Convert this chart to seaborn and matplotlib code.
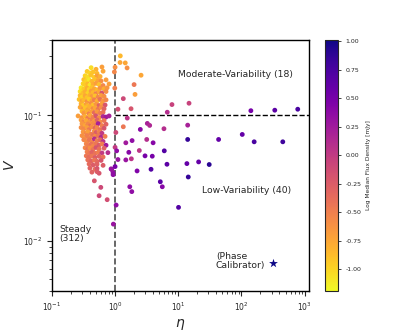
import matplotlib
matplotlib.use("Agg")
import matplotlib.pyplot as plt
import matplotlib as mpl
import numpy as np
import pandas as pd
import seaborn as sns

# ---- Steady sources (eta < 1) ----
steady_eta = [
    0.418, 0.50, 0.62,
    0.361, 0.40, 0.449, 0.519, 0.646,
    0.336, 0.37, 0.418, 0.47, 0.519, 0.58,
    0.32, 0.35, 0.388, 0.43, 0.483, 0.54, 0.601, 0.72,
    0.312, 0.336, 0.37, 0.40, 0.449, 0.50, 0.559, 0.646, 0.804,
    0.29, 0.32, 0.361, 0.388, 0.43, 0.47, 0.519, 0.58, 0.67, 0.748,
    0.28, 0.312, 0.336, 0.37, 0.418, 0.449, 0.50, 0.559, 0.62, 0.72,
    0.28, 0.30, 0.336, 0.361, 0.40, 0.43, 0.483, 0.54, 0.601, 0.67,
    0.27, 0.30, 0.32, 0.361, 0.388, 0.43, 0.47, 0.519, 0.58, 0.646, 0.72,
    0.29, 0.312, 0.35, 0.37, 0.418, 0.449, 0.50, 0.559, 0.62, 0.695,
    0.28, 0.312, 0.336, 0.37, 0.40, 0.449, 0.483, 0.54, 0.601, 0.67,
    0.30, 0.32, 0.361, 0.388, 0.43, 0.47, 0.519, 0.58, 0.646,
    0.26, 0.30, 0.336, 0.37, 0.40, 0.449, 0.50, 0.559, 0.646, 0.72, 0.804,
    0.29, 0.32, 0.35, 0.388, 0.43, 0.47, 0.519, 0.58, 0.67,
    0.30, 0.336, 0.37, 0.40, 0.449, 0.50, 0.54, 0.62, 0.72,
    0.29, 0.32, 0.361, 0.388, 0.43, 0.483, 0.519, 0.58, 0.67,
    0.312, 0.35, 0.37, 0.418, 0.47, 0.50, 0.559, 0.62,
    0.30, 0.336, 0.361, 0.40, 0.449, 0.483, 0.54, 0.601, 0.695,
    0.32, 0.361, 0.388, 0.43, 0.47, 0.519, 0.58, 0.646,
    0.35, 0.37, 0.418, 0.449, 0.50, 0.559, 0.62, 0.72,
    0.336, 0.37, 0.40, 0.449, 0.50, 0.559, 0.67,
    0.361, 0.40, 0.43, 0.483, 0.54, 0.62, 0.77,
    0.35, 0.388, 0.43, 0.483, 0.559, 0.646,
    0.37, 0.418, 0.47, 0.519, 0.601,
    0.388, 0.449, 0.519, 0.646,
    0.40, 0.483, 0.519, 0.865,
    0.43, 0.559, 0.929,
    0.519, 0.47, 0.595, 0.559, 0.75, 0.885, 0.93, 0.94, 1.0, 1.0,
]
steady_v = [
    0.240, 0.233, 0.243,
    0.224, 0.218, 0.222, 0.216, 0.225,
    0.207, 0.203, 0.209, 0.201, 0.206, 0.204,
    0.193, 0.189, 0.192, 0.187, 0.194, 0.190, 0.188, 0.192,
    0.179, 0.175, 0.178, 0.174, 0.177, 0.180, 0.176, 0.173, 0.178,
    0.166, 0.162, 0.165, 0.161, 0.167, 0.163, 0.160, 0.165, 0.163, 0.166,
    0.155, 0.151, 0.154, 0.150, 0.156, 0.152, 0.149, 0.154, 0.151, 0.155,
    0.144, 0.140, 0.143, 0.139, 0.145, 0.141, 0.143, 0.140, 0.144, 0.142,
    0.134, 0.130, 0.133, 0.129, 0.135, 0.131, 0.133, 0.130, 0.134, 0.131, 0.133,
    0.124, 0.120, 0.123, 0.119, 0.125, 0.121, 0.123, 0.120, 0.124, 0.121,
    0.116, 0.112, 0.115, 0.111, 0.117, 0.113, 0.115, 0.112, 0.116, 0.113,
    0.108, 0.104, 0.107, 0.103, 0.108, 0.105, 0.107, 0.104, 0.106,
    0.099, 0.096, 0.098, 0.095, 0.100, 0.097, 0.099, 0.096, 0.098, 0.097, 0.099,
    0.092, 0.089, 0.091, 0.088, 0.093, 0.090, 0.092, 0.089, 0.091,
    0.086, 0.083, 0.085, 0.082, 0.087, 0.084, 0.086, 0.083, 0.085,
    0.080, 0.078, 0.080, 0.077, 0.081, 0.079, 0.080, 0.077, 0.079,
    0.074, 0.072, 0.074, 0.071, 0.075, 0.073, 0.074, 0.072,
    0.069, 0.067, 0.069, 0.066, 0.070, 0.068, 0.069, 0.067, 0.068,
    0.064, 0.062, 0.064, 0.061, 0.065, 0.063, 0.064, 0.062,
    0.0595, 0.0575, 0.0590, 0.0570, 0.0600, 0.0580, 0.0592, 0.0578,
    0.0552, 0.0538, 0.0550, 0.0535, 0.0555, 0.0540, 0.0548,
    0.0512, 0.0500, 0.0510, 0.0498, 0.0508, 0.0502, 0.0505,
    0.0476, 0.0465, 0.0474, 0.0462, 0.0472, 0.0466,
    0.0442, 0.0432, 0.0440, 0.0430, 0.0438,
    0.0410, 0.0402, 0.0408, 0.0400,
    0.0380, 0.0372, 0.0378, 0.0375,
    0.0353, 0.0346, 0.0350,
    0.0356, 0.0301, 0.0267, 0.0229, 0.0213, 0.0370, 0.0337, 0.0136, 0.0557, 0.0391,
]
steady_flux = [
    -1.05, -0.8, -0.7,
    -0.95, -1.0, -0.9, -0.85, -0.75,
    -1.0, -1.05, -0.9, -0.95, -0.7, -0.8,
    -0.9, -1.0, -1.1, -0.85, -0.9, -0.75, -0.6, -0.7,
    -1.0, -0.95, -0.85, -1.1, -0.8, -0.7, -0.9, -0.55, -0.7,
    -1.1, -0.95, -0.8, -1.0, -0.9, -0.75, -0.85, -0.6, -0.8, -0.65,
    -1.05, -0.9, -0.8, -1.0, -0.7, -0.85, -0.5, -0.75, -0.2, -0.6,
    -0.85, -1.0, -0.75, -0.9, -0.8, -0.65, -0.9, -0.55, -0.7, -0.6,
    -0.9, -0.7, -0.85, -0.6, -0.95, -0.75, -0.5, -0.8, -0.4, -0.65, -0.55,
    -0.8, -0.95, -0.7, -0.85, -0.6, -0.9, -0.65, -0.3, -0.7, -0.2,
    -0.75, -0.6, -0.9, -0.7, -0.8, -0.55, -0.75, -0.45, -0.6, -0.3,
    -0.85, -0.65, -0.8, -0.5, -0.7, -0.35, -0.65, -0.5, -0.4,
    -0.7, -0.6, -0.8, -0.45, -0.75, -0.55, -0.2, -0.6, 0.15, 0.25, 0.2,
    -0.7, -0.55, -0.75, -0.65, -0.5, -0.7, -0.3, -0.6, -0.45,
    -0.65, -0.75, -0.55, -0.4, -0.6, -0.5, 0.2, -0.5, -0.3,
    -0.6, -0.55, -0.7, -0.45, -0.6, -0.3, -0.55, -0.4, -0.2,
    -0.65, -0.55, -0.7, -0.5, -0.6, -0.25, -0.5, 0.0,
    -0.6, -0.65, -0.5, -0.55, -0.4, -0.6, -0.45, 0.15, -0.5,
    -0.55, -0.6, -0.45, -0.55, 0.1, -0.5, -0.35, 0.05,
    -0.55, -0.5, -0.4, -0.55, -0.45, -0.25, -0.5, 0.25,
    -0.55, -0.4, -0.6, -0.45, -0.2, -0.4, -0.3,
    -0.5, -0.45, -0.3, -0.4, -0.5, 0.0, 0.1,
    -0.45, -0.35, -0.45, -0.25, -0.3, -0.4,
    -0.4, -0.3, -0.45, -0.35, -0.2,
    -0.35, -0.25, -0.3, -0.25,
    -0.3, -0.4, -0.2, 0.3,
    -0.3, -0.2, 0.35,
    -0.25, -0.2, -0.1, -0.1, -0.15, 0.3, 0.35, 0.3, 0.0, 0.5,
]

# ---- Variable sources (eta > 1) ----
var_eta = [
    1.21, 1.20, 1.45, 1.55, 1.0, 0.975, 2.58, 2.0, 2.07, 0.99,
    1.35, 1.11, 1.79, 7.95, 14.8, 6.7, 141, 337, 778,
    1.35, 1.56, 3.24, 3.53, 2.51, 5.94, 14.1, 1.03, 14.1, 1.48,
    1.86, 3.17, 4.0, 1.06, 1.65, 2.42, 2.98, 3.88, 6.01, 1.11,
    1.48, 1.81, 6.63, 13.7, 21.0, 30.9, 2.23, 3.71, 14.4, 5.2,
    5.59, 1.71, 1.84, 10.1, 1.04, 43.5, 103, 159, 451,
]
var_v = [
    0.298, 0.264, 0.262, 0.239, 0.242, 0.222, 0.209, 0.176, 0.147, 0.165,
    0.136, 0.112, 0.113, 0.122, 0.125, 0.106, 0.109, 0.110, 0.112,
    0.0812, 0.0952, 0.0863, 0.0832, 0.0773, 0.0783, 0.0836, 0.0731, 0.0643, 0.0605,
    0.063, 0.0643, 0.0605, 0.0522, 0.0508, 0.0525, 0.0476, 0.0473, 0.0522, 0.0445,
    0.0442, 0.0451, 0.0408, 0.0413, 0.0426, 0.0406, 0.0361, 0.0372, 0.0323, 0.0296,
    0.027, 0.027, 0.0247, 0.0185, 0.0193, 0.0643, 0.0705, 0.0616, 0.0616,
]
var_flux = [
    -0.85, -0.75, -0.75, -0.6, -0.6, -0.55, -0.75, -0.45, -0.7, -0.5,
    -0.1, -0.15, -0.2, -0.05, -0.05, 0.1, 0.5, 0.65, 0.75,
    -0.45, 0.05, 0.2, 0.15, 0.4, 0.1, 0.2, -0.1, 0.85, 0.25,
    0.35, 0.1, 0.4, 0.35, 0.4, 0.05, 0.5, 0.5, 0.7, 0.3,
    0.3, 0.05, 0.65, 0.6, 0.6, 0.9, 0.45, 0.7, 0.85, 0.65,
    0.4, 0.35, 0.35, 0.7, 0.35, 0.6, 0.6, 0.75, 0.8,
]

# Phase calibrator
cal_eta = [313.0]
cal_v = [0.0067]

region_labels = ["Moderate-Variability (18)", "Low-Variability (40)",
                 "Steady\n(312)", "(Phase\nCalibrator)"]

vmin, vmax = -1.19, 1.01

df = pd.DataFrame({
    "eta": steady_eta + var_eta,
    "V": steady_v + var_v,
    "flux": steady_flux + var_flux,
})
cal = pd.DataFrame({"eta": cal_eta, "V": cal_v})

sns.set_style("ticks")
plt.rcParams["font.family"] = ["DejaVu Sans"]

fig = plt.figure(figsize=(4.15, 3.32), dpi=100)
ax = fig.add_axes([0.125, 0.124, 0.62, 0.756])
cax = fig.add_axes([0.783, 0.124, 0.031, 0.756])

cmap = plt.get_cmap("plasma_r")
norm = mpl.colors.Normalize(vmin=vmin, vmax=vmax)
pal = {v: cmap(norm(v)) for v in sorted(set(df["flux"]))}

sns.scatterplot(data=df, x="eta", y="V", hue="flux", palette=pal,
                s=12, linewidth=0, legend=False, ax=ax, zorder=3)
sns.scatterplot(data=cal, x="eta", y="V", marker="*", color=cmap(1.0),
                s=45, linewidth=0, legend=False, ax=ax, zorder=4)

ax.set_xscale("log")
ax.set_yscale("log")
ax.set_xlim(0.1, 1180)
ax.set_ylim(0.004, 0.4)

ax.axvline(1.0, color="0.3", ls="--", lw=1.2, zorder=2)
ax.plot([1.0, 1180], [0.1, 0.1], color="black", ls="--", lw=1.0, zorder=2)

fs = 6.7
ax.text(9.9, 0.212, region_labels[0], fontsize=fs, ha="left", va="center")
ax.text(24.0, 0.0251, region_labels[1], fontsize=fs, ha="left", va="center")
ax.text(0.13, 0.0114, region_labels[2], fontsize=fs, ha="left", va="center",
        linespacing=1.0)
ax.text(39.4, 0.00686, region_labels[3], fontsize=fs, ha="left", va="center",
        linespacing=1.0)

ax.set_xlabel(r"$\eta$", fontsize=10, labelpad=3)
ax.set_ylabel(r"$V$", fontsize=10, labelpad=4)
ax.tick_params(axis="both", which="major", labelsize=5.5, length=3.5, width=0.8)
ax.tick_params(axis="both", which="minor", length=2, width=0.6)
for sp in ax.spines.values():
    sp.set_linewidth(1.0)
    sp.set_color("black")

sm = mpl.cm.ScalarMappable(norm=norm, cmap=cmap)
cb = fig.colorbar(sm, cax=cax)
cb.set_ticks([-1.0, -0.75, -0.5, -0.25, 0.0, 0.25, 0.5, 0.75, 1.0])
cb.ax.yaxis.set_major_formatter(mpl.ticker.FormatStrFormatter("%.2f"))
cb.ax.tick_params(labelsize=4.5, length=2, width=0.6)
cb.set_label("Log Median Flux Density [mJy]", fontsize=4.2, labelpad=3)
cb.outline.set_linewidth(0.8)

fig.savefig("out.png", dpi=100)
